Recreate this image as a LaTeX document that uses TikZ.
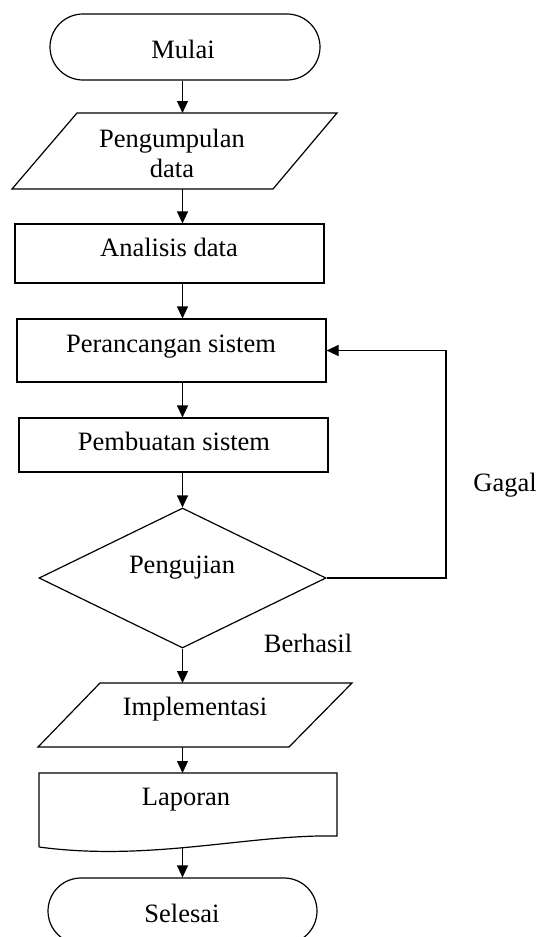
\documentclass[tikz,border=0pt]{standalone}
\usepackage{fontspec}
\setmainfont{Liberation Serif}
\usetikzlibrary{arrows.meta,shapes.geometric,shapes.misc,calc}
\begin{document}
\begin{tikzpicture}[x=1pt,y=-1pt,
  line width=1.2pt,
  txt/.style={font=\fontsize{26.5}{30}\selectfont, inner sep=0pt, anchor=base},
  box/.style={draw, rectangle, inner sep=0pt},
  ghost/.style={rectangle, inner sep=0pt, outer sep=0pt, draw=none},
  term/.style={draw, rounded rectangle, inner sep=0pt},
  dec/.style={draw, diamond, inner sep=0pt},
  arr/.style={-{Triangle[length=12pt,width=11pt]}},
]
\useasboundingbox (0,0) rectangle (539,937);
\coordinate (spine) at (182.5,0);
\coordinate (loopx) at (446,0);

% shapes
\node[term, minimum width=270pt, minimum height=66pt] (mulai) at (185,47) {};
\node[ghost, minimum width=325pt, minimum height=76pt] (peng) at (174.5,151) {};
\draw ($(peng.north west)+(65,0)$) -- (peng.north east) -- ($(peng.south east)+(-64,0)$) -- (peng.south west) -- cycle;
\node[box, minimum width=309pt, minimum height=59pt] (anal) at (169.5,253.5) {};
\node[box, minimum width=309pt, minimum height=63pt] (pera) at (171.5,350.5) {};
\node[box, minimum width=309pt, minimum height=54pt] (pemb) at (173.5,445) {};
\node[dec, minimum width=287pt, minimum height=140pt] (uji) at (182.5,578) {};
\node[ghost, minimum width=314pt, minimum height=64pt] (impl) at (195,715) {};
\draw ($(impl.north west)+(62,0)$) -- (impl.north east) -- ($(impl.south east)+(-63,0)$) -- (impl.south west) -- cycle;
\node[ghost, minimum width=298pt, minimum height=74pt] (lap) at (188,810) {};
\draw (lap.south west) -- (lap.north west) -- (lap.north east) -- ($(lap.north east)+(0,63)$) .. controls (250,834) and (150,862) .. (lap.south west);
\node[term, minimum width=269pt, minimum height=66pt] (sel) at (182.5,911) {};

% texts
\node[txt] (tmulai) at (183,58) {Mulai};
\node[txt, anchor=center, align=center] (tpeng) at (172,153) {Pengumpulan\\data};
\node[txt] (tanal) at (169,256) {Analisis data};
\node[txt] (tpera) at (171,352) {Perancangan sistem};
\node[txt] (tpemb) at (174,450) {Pembuatan sistem};
\node[txt] (tuji) at (182,573) {Pengujian};
\node[txt] (timpl) at (195,715) {Implementasi};
\node[txt] (tlap) at (186,805) {Laporan};
\node[txt] (tsel) at (182,922) {Selesai};
\node[txt] (berhasil) at (308,652) {Berhasil};
\node[txt] (gagal) at (505,491) {Gagal};

% connectors
\draw[arr] (mulai.south -| spine) -- (peng.north -| spine);
\draw[arr] (peng.south -| spine) -- (anal.north -| spine);
\draw[arr] (anal.south -| spine) -- (pera.north -| spine);
\draw[arr] (pera.south -| spine) -- (pemb.north -| spine);
\draw[arr] (pemb.south -| spine) -- (uji.north);
\draw[arr] (uji.south) -- (impl.north -| spine);
\draw[arr] (impl.south -| spine) -- (lap.north -| spine);
\draw[arr] (lap.south -| spine) -- (sel.north -| spine);
\draw[arr] (uji.east) -- (uji.east -| loopx) -- (loopx |- pera.east) -- (pera.east);
\end{tikzpicture}
\end{document}
